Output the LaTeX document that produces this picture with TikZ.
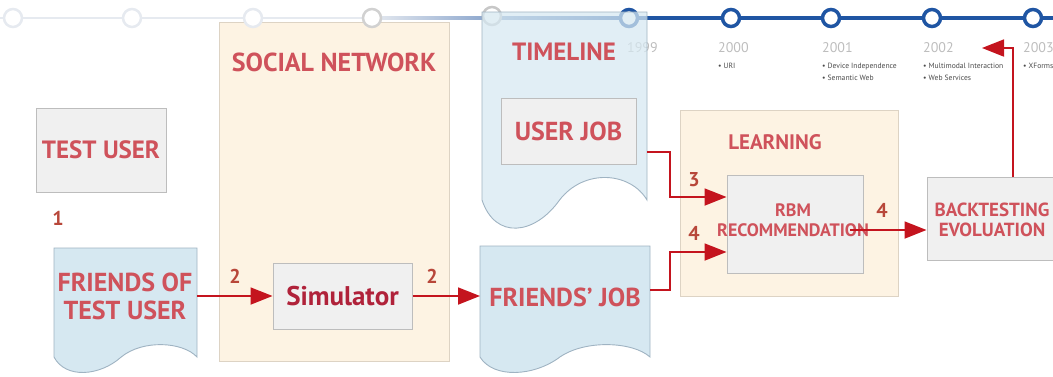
\documentclass[tikz,border=0pt]{standalone}
\usepackage{fontspec}
\setmainfont{PT Sans}
\usetikzlibrary{arrows.meta,calc}

\definecolor{tred}{HTML}{CF525B}
\definecolor{simred}{HTML}{B0223A}
\definecolor{numred}{HTML}{B8473A}
\definecolor{ared}{HTML}{C4141E}
\definecolor{peach}{HTML}{FDF3E3}
\definecolor{peachline}{HTML}{DDD3C4}
\definecolor{docblue}{HTML}{D6E8F1}
\definecolor{docline}{HTML}{9FB3C2}
\definecolor{gboxfill}{HTML}{F0F0F0}
\definecolor{gboxline}{HTML}{BDBDBD}
\definecolor{tlblue}{HTML}{1F55A3}
\definecolor{tlfaint}{HTML}{E6EAF0}
\definecolor{yeargray}{HTML}{BDBDBD}
\definecolor{notegray}{HTML}{4A4A4A}

% document shape with a wavy lower edge: #1 left, #2 right, #3 top, #4 base, #5 wave depth factor
\newcommand\docshape[6]{%
  \path[#6] (#1,#3) -- (#2,#3) -- (#2,#4)
    .. controls ({#2-0.1*(#2-#1)},{#4-28*#5}) and ({#2-0.38*(#2-#1)},{#4-32*#5}) .. ({#1+0.47*(#2-#1)},#4)
    .. controls ({#1+0.32*(#2-#1)},{#4+35*#5}) and ({#1+0.08*(#2-#1)},{#4+40*#5}) .. (#1,#4) -- cycle;}

\newcommand\fs[2]{\bfseries\fontsize{#1}{#2}\selectfont}

\tikzset{
  groupbox/.style={draw=peachline, fill=peach, line width=0.8pt, inner sep=0pt},
  graybox/.style={draw=gboxline, fill=gboxfill, line width=1pt, inner sep=0pt},
  docbox/.style={draw=docline, fill=docblue, line width=0.9pt},
  lbl/.style={text=tred, align=center, inner sep=0pt},
  num/.style={text=numred, font=\fs{20}{20}},
  flow/.style={draw=ared, line width=1.8pt, -{Triangle[length=22pt,width=17pt]}},
  tldot/.style={draw=tlblue, fill=white, line width=3.5pt},
  fdot/.style={draw=tlfaint, fill=white, line width=2.5pt},
  year/.style={text=yeargray, font=\fontsize{14}{14}\selectfont, anchor=base west, inner sep=0pt},
  note/.style={text=notegray, font=\fontsize{7.6}{7.6}\selectfont, anchor=base west, inner sep=0pt},
}

\begin{document}
\begin{tikzpicture}[x=1pt,y=-1pt]
\useasboundingbox (0,0) rectangle (1053,376);
\clip (0,0) rectangle (1053,376);

% social network group
\node[groupbox, minimum width=230pt, minimum height=339pt] (social) at (334,191.5) {};
\node[lbl, font=\fs{26}{26}] (socialT) at (334,62) {SOCIAL NETWORK};

% timeline strip
\draw[tlfaint, line width=2.5pt] (0,18) -- (372,18);
\shade[left color=tlfaint, right color=tlblue] (372,16.5) rectangle (629,19.5);
\draw[tlblue, line width=3.5pt] (629,18) -- (1053,18);
\foreach \x in {13,132,253} \path[fdot] (\x,18) circle (9);
\path[fdot, draw=black!18] (372,18) circle (9);
\path[fdot, draw=black!22] (492,16) circle (9);
\foreach \x in {629,731,831,932,1033} \path[tldot] (\x,18) circle (8.5);

\node[year] (y1999) at (627,52) {1999};
\node[year] (y2000) at (718,52) {2000};
\node[year] (y2001) at (822,52) {2001};
\node[year] (y2002) at (923,52) {2002};
\node[year] (y2003) at (1023,52) {2003};
\node[note] (n2000) at (718,68) {• URI};
\node[note] (n2001a) at (822,68) {• Device Independence};
\node[note] (n2001b) at (822,80) {• Semantic Web};
\node[note] (n2002a) at (923,68) {• Multimodal Interaction};
\node[note] (n2002b) at (923,80) {• Web Services};
\node[note] (n2003) at (1023,68) {• XForms};

% timeline document
\docshape{482}{647}{12}{200}{1}{docbox, fill opacity=0.72}
\node[lbl, font=\fs{25}{25}] (timelineT) at (564,52) {TIMELINE};
\node[graybox, minimum width=135pt, minimum height=66pt, text=tred, font=\fs{26}{26}] (userjob) at (568.5,131) {USER JOB};
\coordinate (tl-e) at (647,152);

% test user
\node[graybox, minimum width=130pt, minimum height=84pt, text=tred, font=\fs{25}{25}] (testuser) at (101,150) {TEST USER};
\node[num] (n1) at (58,218) {1};

% friends of test user
\docshape{54}{197}{248}{357}{0.55}{docbox}
\node[lbl, font=\fs{26}{28}] (friends) at (125,296) {FRIENDS OF\\TEST USER};
\coordinate (fo-e) at (197,296);

% simulator
\node[graybox, minimum width=139pt, minimum height=66pt, text=simred, font=\fs{27}{27}] (sim) at (342.5,296) {Simulator};

% friends' job
\docshape{480}{650}{246}{357}{0.55}{docbox}
\node[lbl, font=\fs{26}{26}] (fjob) at (565,297) {FRIENDS’ JOB};
\coordinate (fj-w) at (480,296);
\coordinate (fj-e) at (650,290);

% learning
\node[groupbox, minimum width=218pt, minimum height=186pt] (learning) at (789,203) {};
\node[lbl, font=\fs{21}{21}] (learningT) at (775,142) {LEARNING};
\node[graybox, minimum width=136pt, minimum height=98pt] (rbm) at (795,224) {};
\node[lbl, font=\fs{18}{19.5}] (rbmT) at (793,220) {RBM\\RECOMMENDATION};

% backtesting
\node[graybox, minimum width=140pt, minimum height=83pt] (bt) at (997,218.5) {};
\node[lbl, font=\fs{19}{20}] (btT) at (992,220) {BACKTESTING\\EVOLUATION};

% connectors
\draw[flow] (fo-e) -- (fo-e -| sim.west);
\node[num] (n2a) at (235,276) {2};
\draw[flow] (sim.east |- fj-w) -- (fj-w);
\node[num] (n2b) at (432,276) {2};

\coordinate (j3) at (670,197);
\coordinate (j4) at (670,252);
\draw[flow] (tl-e) -| (j3) -- (j3 -| rbm.west);
\node[num] (n3) at (694,180) {3};
\draw[flow] (fj-e) -| (j4) -- (j4 -| rbm.west);
\node[num] (n4a) at (694,233) {4};

\coordinate (r-out) at (850,230);
\draw[flow] (r-out) -- (r-out -| bt.west);
\node[num] (n4b) at (882,210) {4};

\coordinate (bt-up) at (1013,177);
\coordinate (yr) at (982,48);
\draw[flow] (bt-up) |- (yr);
\end{tikzpicture}
\end{document}
